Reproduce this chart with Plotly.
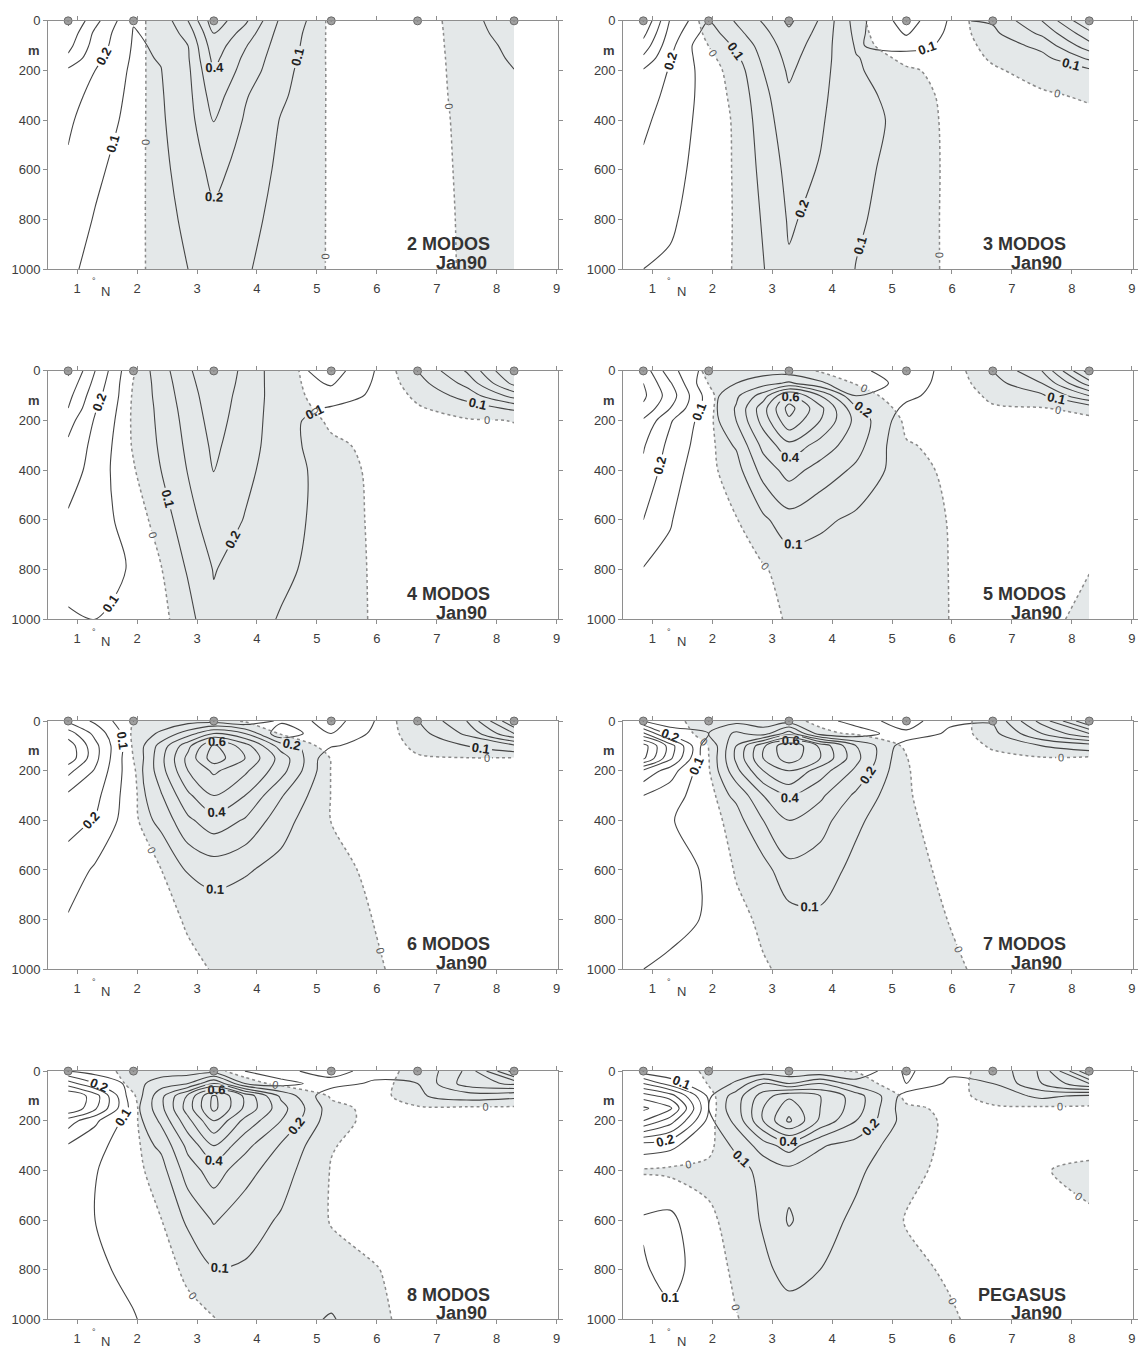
import numpy as np
import plotly.graph_objects as go

# ---------------- data ----------------
# grid on which the sections are given
latitudes = [0.85, 1.3, 1.94, 2.4, 2.85, 3.28, 3.8, 4.4, 5.24, 5.96, 6.68, 7.5, 8.29]   # deg N
depths = [0, 50, 100, 150, 200, 300, 400, 600, 800, 1000]                              # m
stations = [0.85, 1.94, 3.28, 5.24, 6.68, 8.29]
x_ticks = [1, 2, 3, 4, 5, 6, 7, 8, 9]
depth_ticks = [0, 200, 400, 600, 800, 1000]

# each inner list = vertical profile (values at `depths`) at the matching latitude
modos_2 = [
    [-0.52, -0.47, -0.43, -0.38, -0.28, -0.24, -0.215, -0.185, -0.14, -0.11],
    [-0.33, -0.28, -0.26, -0.23, -0.20, -0.17, -0.15, -0.115, -0.095, -0.085],
    [-0.105, -0.095, -0.09, -0.085, -0.08, -0.075, -0.07, -0.06, -0.05, -0.045],
    [0.13, 0.12, 0.11, 0.105, 0.098, 0.092, 0.088, 0.078, 0.066, 0.058],
    [0.30, 0.24, 0.20, 0.19, 0.18, 0.17, 0.16, 0.14, 0.12, 0.10],
    [0.56, 0.50, 0.46, 0.43, 0.40, 0.35, 0.31, 0.23, 0.18, 0.16],
    [0.42, 0.36, 0.31, 0.28, 0.26, 0.21, 0.19, 0.16, 0.13, 0.11],
    [0.18, 0.16, 0.15, 0.14, 0.13, 0.115, 0.095, 0.08, 0.07, 0.06],
    [-0.022, -0.02, -0.019, -0.018, -0.016, -0.014, -0.012, -0.01, -0.009, -0.008],
    [-0.04, -0.04, -0.04, -0.04, -0.04, -0.035, -0.035, -0.03, -0.03, -0.03],
    [-0.05, -0.05, -0.048, -0.046, -0.045, -0.042, -0.04, -0.036, -0.033, -0.03],
    [0.05, 0.045, 0.04, 0.035, 0.032, 0.026, 0.02, 0.014, 0.01, 0.008],
    [0.19, 0.16, 0.13, 0.115, 0.098, 0.08, 0.07, 0.055, 0.045, 0.04],
]
modos_3 = [
    [-0.6, -0.53, -0.46, -0.38, -0.29, -0.25, -0.22, -0.18, -0.14, -0.10],
    [-0.29, -0.26, -0.23, -0.205, -0.19, -0.17, -0.155, -0.13, -0.11, -0.09],
    [0.10, 0.05, 0.002, -0.03, -0.05, -0.06, -0.06, -0.06, -0.06, -0.05],
    [0.21, 0.17, 0.12, 0.08, 0.05, 0.03, 0.015, 0.012, 0.01, 0.01],
    [0.31, 0.27, 0.24, 0.22, 0.20, 0.17, 0.155, 0.13, 0.11, 0.095],
    [0.42, 0.38, 0.35, 0.33, 0.315, 0.285, 0.26, 0.23, 0.21, 0.19],
    [0.29, 0.27, 0.255, 0.245, 0.235, 0.22, 0.21, 0.195, 0.175, 0.16],
    [0.06, 0.075, 0.09, 0.105, 0.115, 0.13, 0.135, 0.12, 0.11, 0.098],
    [-0.25, -0.21, -0.15, -0.04, 0.02, 0.06, 0.075, 0.07, 0.065, 0.06],
    [-0.09, -0.08, -0.07, -0.05, -0.04, -0.03, -0.025, -0.02, -0.02, -0.018],
    [0.11, 0.08, 0.04, 0.01, -0.01, -0.02, -0.02, -0.02, -0.02, -0.02],
    [0.30, 0.22, 0.13, 0.07, 0.03, -0.01, -0.02, -0.02, -0.02, -0.02],
    [0.6, 0.47, 0.36, 0.22, 0.08, 0.01, -0.02, -0.02, -0.02, -0.02],
]
modos_4 = [
    [-0.52, -0.47, -0.43, -0.40, -0.34, -0.28, -0.25, -0.185, -0.13, -0.09],
    [-0.30, -0.27, -0.24, -0.21, -0.19, -0.17, -0.16, -0.14, -0.12, -0.10],
    [-0.01, 0.005, 0.012, 0.015, 0.015, 0.01, -0.008, -0.06, -0.095, -0.10],
    [0.16, 0.15, 0.14, 0.13, 0.125, 0.115, 0.10, 0.05, -0.005, -0.03],
    [0.28, 0.265, 0.255, 0.245, 0.235, 0.22, 0.205, 0.16, 0.11, 0.065],
    [0.40, 0.38, 0.36, 0.35, 0.34, 0.32, 0.305, 0.26, 0.205, 0.18],
    [0.27, 0.265, 0.26, 0.255, 0.25, 0.24, 0.225, 0.195, 0.16, 0.13],
    [0.14, 0.145, 0.15, 0.15, 0.15, 0.15, 0.145, 0.13, 0.115, 0.095],
    [-0.25, -0.21, -0.16, -0.09, -0.03, 0.03, 0.06, 0.07, 0.07, 0.065],
    [-0.10, -0.09, -0.08, -0.06, -0.05, -0.035, -0.025, -0.02, -0.015, -0.012],
    [0.10, 0.06, 0.02, -0.01, -0.02, -0.02, -0.02, -0.02, -0.02, -0.02],
    [0.31, 0.23, 0.14, 0.05, -0.01, -0.02, -0.02, -0.02, -0.02, -0.02],
    [0.62, 0.53, 0.34, 0.12, 0.002, -0.02, -0.02, -0.02, -0.02, -0.02],
]
modos_5 = [
    [-0.46, -0.5, -0.52, -0.48, -0.385, -0.31, -0.28, -0.20, -0.095, -0.08],
    [-0.24, -0.31, -0.35, -0.3, -0.21, -0.17, -0.14, -0.105, -0.08, -0.06],
    [0.05, 0.005, -0.05, -0.05, -0.04, -0.035, -0.03, -0.025, -0.02, -0.02],
    [0.04, 0.1, 0.18, 0.21, 0.2, 0.11, 0.06, -0.005, -0.02, -0.02],
    [0.06, 0.16, 0.35, 0.46, 0.44, 0.33, 0.24, 0.08, -0.01, -0.03],
    [0.05, 0.22, 0.62, 0.74, 0.68, 0.47, 0.34, 0.16, 0.04, 0.01],
    [-0.01, 0.12, 0.4, 0.53, 0.5, 0.36, 0.26, 0.12, 0.05, 0.02],
    [-0.07, -0.01, 0.1, 0.22, 0.27, 0.24, 0.18, 0.08, 0.03, 0.02],
    [-0.17, -0.15, -0.12, -0.08, -0.03, 0.01, 0.04, 0.06, 0.06, 0.05],
    [-0.06, -0.06, -0.06, -0.05, -0.04, -0.03, -0.02, -0.005, -0.002, -0.001],
    [0.10, 0.06, 0.02, -0.01, -0.02, -0.02, -0.02, -0.02, -0.02, -0.02],
    [0.30, 0.2, 0.08, -0.005, -0.02, -0.02, -0.02, -0.02, -0.02, -0.02],
    [0.75, 0.55, 0.3, 0.03, -0.02, -0.02, -0.02, -0.015, -0.002, 0.02],
]
modos_6 = [
    [-0.28, -0.45, -0.56, -0.57, -0.43, -0.28, -0.23, -0.16, -0.09, -0.07],
    [-0.18, -0.27, -0.33, -0.33, -0.29, -0.23, -0.195, -0.085, -0.06, -0.05],
    [0.005, 0.02, 0.015, 0.002, -0.02, -0.03, -0.03, -0.03, -0.03, -0.03],
    [0.03, 0.12, 0.24, 0.27, 0.26, 0.19, 0.13, -0.002, -0.03, -0.03],
    [0.06, 0.25, 0.47, 0.53, 0.5, 0.38, 0.28, 0.11, 0.01, -0.02],
    [0.06, 0.4, 0.72, 0.76, 0.62, 0.5, 0.36, 0.14, 0.04, 0.005],
    [-0.02, 0.3, 0.55, 0.6, 0.52, 0.4, 0.29, 0.11, 0.04, 0.02],
    [-0.12, -0.02, 0.25, 0.36, 0.34, 0.21, 0.14, 0.07, 0.04, 0.03],
    [-0.25, -0.2, -0.11, -0.01, -0.005, -0.003, -0.002, 0.03, 0.04, 0.04],
    [-0.1, -0.08, -0.06, -0.05, -0.04, -0.03, -0.03, -0.02, -0.002, 0.01],
    [0.095, 0.06, 0.02, -0.01, -0.02, -0.02, -0.02, -0.02, -0.015, -0.03],
    [0.3, 0.22, 0.1, -0.005, -0.02, -0.02, -0.02, -0.02, -0.02, -0.02],
    [0.7, 0.5, 0.18, -0.01, -0.02, -0.02, -0.02, -0.02, -0.02, -0.02],
]
modos_7 = [
    [-0.1, -0.42, -0.75, -0.72, -0.38, -0.2, -0.16, -0.14, -0.125, -0.1],
    [-0.05, -0.15, -0.45, -0.42, -0.25, -0.14, -0.105, -0.13, -0.13, -0.08],
    [0.08, 0.1, 0.01, -0.005, -0.01, -0.04, -0.06, -0.09, -0.09, -0.06],
    [0.07, 0.22, 0.3, 0.32, 0.27, 0.12, 0.06, 0.01, -0.03, -0.04],
    [0.05, 0.15, 0.58, 0.6, 0.5, 0.3, 0.2, 0.06, 0.02, -0.01],
    [0.06, 0.35, 0.8, 0.76, 0.6, 0.42, 0.3, 0.17, 0.06, 0.02],
    [-0.05, 0.05, 0.58, 0.6, 0.45, 0.32, 0.24, 0.15, 0.08, 0.04],
    [-0.15, -0.03, 0.3, 0.33, 0.28, 0.18, 0.12, 0.07, 0.05, 0.04],
    [-0.25, -0.18, -0.04, 0.002, 0.003, 0.005, 0.01, 0.03, 0.05, 0.05],
    [-0.12, -0.08, -0.05, -0.04, -0.03, -0.03, -0.025, -0.02, -0.003, 0.02],
    [0.11, 0.07, 0.01, -0.02, -0.02, -0.02, -0.02, -0.02, -0.02, -0.03],
    [0.44, 0.3, 0.1, -0.01, -0.02, -0.02, -0.02, -0.02, -0.02, -0.02],
    [0.8, 0.5, 0.15, -0.02, -0.02, -0.02, -0.02, -0.02, -0.02, -0.02],
]
modos_8 = [
    [-0.1, -0.35, -0.6, -0.6, -0.35, -0.19, -0.16, -0.14, -0.13, -0.12],
    [-0.06, -0.2, -0.45, -0.42, -0.22, -0.13, -0.105, -0.1, -0.115, -0.12],
    [0.05, 0.06, -0.02, -0.05, -0.04, -0.04, -0.04, -0.05, -0.08, -0.105],
    [0.05, 0.15, 0.27, 0.27, 0.22, 0.12, 0.06, -0.003, -0.04, -0.07],
    [0.05, 0.2, 0.52, 0.55, 0.47, 0.33, 0.25, 0.12, 0.02, -0.03],
    [0.06, 0.4, 0.82, 0.83, 0.7, 0.5, 0.35, 0.21, 0.095, -0.005],
    [-0.1, 0.1, 0.58, 0.58, 0.47, 0.33, 0.24, 0.14, 0.09, 0.05],
    [-0.17, -0.06, 0.28, 0.34, 0.3, 0.19, 0.14, 0.09, 0.06, 0.05],
    [-0.25, -0.15, -0.02, 0.045, 0.04, 0.005, -0.005, -0.005, 0.03, 0.11],
    [-0.15, -0.08, -0.06, -0.04, -0.03, -0.03, -0.03, -0.02, 0.003, 0.02],
    [0.11, 0.1, 0.09, -0.02, -0.02, -0.02, -0.02, -0.02, -0.02, -0.03],
    [0.32, 0.35, 0.14, -0.02, -0.02, -0.02, -0.02, -0.02, -0.02, -0.02],
    [0.75, 0.42, 0.12, -0.02, -0.02, -0.02, -0.02, -0.02, -0.02, -0.02],
]
pegasus = [
    [-0.05, -0.3, -0.55, -0.72, -0.6, -0.15, 0.01, -0.11, -0.09, -0.05],
    [-0.03, -0.15, -0.45, -0.62, -0.45, -0.12, 0.02, -0.12, -0.13, -0.08],
    [0.01, 0.01, -0.08, -0.1, -0.07, -0.03, 0.03, -0.02, -0.05, -0.06],
    [0.02, 0.12, 0.25, 0.26, 0.23, 0.12, 0.06, 0.04, 0.02, -0.005],
    [0.03, 0.3, 0.45, 0.5, 0.5, 0.25, 0.13, 0.11, 0.08, 0.04],
    [0.02, 0.2, 0.58, 0.66, 0.72, 0.35, 0.17, 0.21, 0.13, 0.06],
    [0.02, 0.3, 0.5, 0.5, 0.48, 0.21, 0.15, 0.14, 0.1, 0.04],
    [-0.01, 0.15, 0.35, 0.35, 0.3, 0.16, 0.12, 0.08, 0.06, 0.03],
    [-0.22, -0.2, -0.05, 0.03, 0.05, 0.04, 0.02, -0.005, 0.02, 0.03],
    [-0.12, -0.08, -0.05, -0.03, -0.02, -0.02, -0.02, -0.02, -0.01, 0.01],
    [0.12, 0.1, 0.05, -0.02, -0.03, -0.03, -0.03, -0.03, -0.03, -0.03],
    [0.32, 0.3, 0.12, -0.02, -0.03, -0.03, -0.005, -0.03, -0.03, -0.03],
    [0.8, 0.5, 0.08, -0.02, -0.03, -0.03, 0.02, -0.01, -0.02, -0.02],
]

panel_titles = ["2 MODOS", "3 MODOS", "4 MODOS", "5 MODOS",
                "6 MODOS", "7 MODOS", "8 MODOS", "PEGASUS"]
panel_month = "Jan90"
panel_data = [modos_2, modos_3, modos_4, modos_5, modos_6, modos_7, modos_8, pegasus]

# ---------------- style ----------------
W, H = 1139, 1358
FONT = "Liberation Sans, Arial, sans-serif"
AX = "#8e8e8e"
TXT = "#3c3c3c"
LINE = "#454545"
LABEL = "#222222"
ZERO = "#8a8a8a"
SHADE = "#e4e8e9"
SM = 0.9

col_px = [(48.3, 559.0), (625.0, 1135.7)]
row_top = [14, 368, 722, 1076]
row_h = 251

fig = go.Figure()
layout = dict(width=W, height=H, margin=dict(l=0, r=0, t=0, b=0),
              paper_bgcolor="white", plot_bgcolor="white",
              showlegend=False, annotations=[])

for i, (title, prof) in enumerate(zip(panel_titles, panel_data)):
    n = i + 1
    r, c = divmod(i, 2)
    xa = "x" if n == 1 else f"x{n}"
    ya = "y" if n == 1 else f"y{n}"
    xk = "xaxis" if n == 1 else f"xaxis{n}"
    yk = "yaxis" if n == 1 else f"yaxis{n}"
    x0, x1 = col_px[c]
    top = row_top[r]
    bot = top + row_h
    layout[xk] = dict(domain=[x0 / W, x1 / W], range=[0.517, 9.015], anchor=ya,
                      tickvals=x_ticks, ticks="outside", ticklen=4, tickcolor=AX,
                      showline=True, linecolor=AX, linewidth=1.3, mirror="ticks",
                      showgrid=False, zeroline=False, ticklabelstandoff=3,
                      tickfont=dict(family=FONT, size=13, color=TXT))
    layout[yk] = dict(domain=[1 - bot / H, 1 - top / H], range=[1000, 0], anchor=xa,
                      tickvals=depth_ticks, ticks="outside", ticklen=4, tickcolor=AX,
                      showline=True, linecolor=AX, linewidth=1.3, mirror="ticks",
                      showgrid=False, zeroline=False,
                      tickfont=dict(family=FONT, size=13, color=TXT))

    z = np.array(prof, dtype=float).T
    absz = np.abs(z)

    # shading where the field is positive ('<' keeps z<0, i.e. shades z>0)
    fig.add_trace(go.Contour(x=latitudes, y=depths, z=z, xaxis=xa, yaxis=ya,
                             contours=dict(type="constraint", operation="<", value=0),
                             fillcolor=SHADE, line=dict(width=0, smoothing=SM),
                             showscale=False, hoverinfo="skip"))
    # solid isolines
    for start, end, size, lab in [(0.1, 0.2, 0.1, True), (0.4, 0.8, 0.2, True),
                                  (0.3, 0.9, 0.2, False)]:
        fig.add_trace(go.Contour(x=latitudes, y=depths, z=absz, xaxis=xa, yaxis=ya,
                                 autocontour=False,
                                 colorscale=[[0, LABEL], [1, LABEL]],
                                 contours=dict(coloring="none", start=start, end=end, size=size,
                                               showlabels=lab, labelformat=".1f",
                                               labelfont=dict(family=FONT, size=13, color=LABEL,
                                                              weight="bold")),
                                 line=dict(color=LINE, width=1.1, smoothing=SM),
                                 showscale=False, hoverinfo="skip"))
    # zero line (dotted)
    fig.add_trace(go.Contour(x=latitudes, y=depths, z=z, xaxis=xa, yaxis=ya,
                             autocontour=False,
                             colorscale=[[0, "#555"], [1, "#555"]],
                             contours=dict(coloring="none", start=0, end=0, size=1,
                                           showlabels=True, labelformat=".0f",
                                           labelfont=dict(family=FONT, size=11, color="#555")),
                             line=dict(color=ZERO, width=1.5, dash="dot", smoothing=SM),
                             showscale=False, hoverinfo="skip"))
    # stations
    fig.add_trace(go.Scatter(x=stations, y=[0] * len(stations), xaxis=xa, yaxis=ya,
                             mode="markers", cliponaxis=False, hoverinfo="skip",
                             marker=dict(symbol="circle-dot", size=8, color="#a0a0a0",
                                         line=dict(color="#6a6a6a", width=1))))

    ann = layout["annotations"]
    ann.append(dict(xref=xa, yref=ya, x=7.93, y=900, text=f"<b>{title}</b>",
                    showarrow=False, xanchor="right", yanchor="middle",
                    font=dict(family=FONT, size=18, color="#333")))
    ann.append(dict(xref=xa, yref=ya, x=7.87, y=975, text=f"<b>{panel_month}</b>",
                    showarrow=False, xanchor="right", yanchor="middle",
                    font=dict(family=FONT, size=18, color="#333")))
    ann.append(dict(xref=f"{xa} domain", yref=ya, x=-0.013, y=120, text="<b>m</b>",
                    showarrow=False, xanchor="right", yanchor="middle",
                    font=dict(family=FONT, size=13, color=TXT)))
    ann.append(dict(xref=xa, yref=f"{ya} domain", x=1.28, y=-0.05, text="°",
                    showarrow=False, xanchor="center", yanchor="middle",
                    font=dict(family=FONT, size=9, color=TXT)))
    ann.append(dict(xref=xa, yref=f"{ya} domain", x=1.48, y=-0.09, text="N",
                    showarrow=False, xanchor="center", yanchor="middle",
                    font=dict(family=FONT, size=13, color=TXT)))

fig.update_layout(**layout)
fig.write_html("out.html")
